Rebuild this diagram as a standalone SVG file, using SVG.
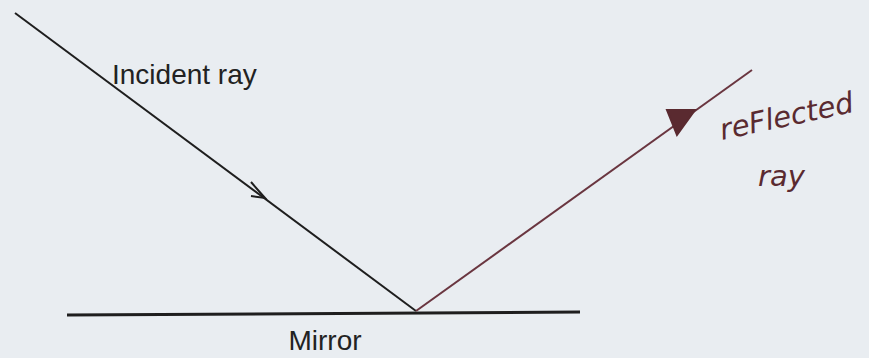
<svg xmlns="http://www.w3.org/2000/svg" width="869" height="358" viewBox="0 0 869 358">
<style>
.lbl{font-family:"Liberation Sans",Arial,sans-serif;font-size:28px;fill:#222}
.hand{font-family:"DejaVu Sans",sans-serif;font-style:italic;font-size:29px;fill:#5a2a30}
.ray{stroke:#1e1e1e;stroke-width:2;fill:none}
.rref{stroke:#6a3640;stroke-width:2;fill:none}
</style>
<rect width="869" height="358" fill="#e9edf1"/>
<g id="mirror">
<line x1="67" y1="315" x2="580" y2="312" stroke="#1e1e1e" stroke-width="3"/>
<text class="lbl" x="325" y="350" text-anchor="middle">Mirror</text>
</g>
<g id="connectors">
<g id="incident">
<line class="ray" x1="15" y1="13" x2="416" y2="311"/>
<polyline class="ray" points="251,182 265,198 251,196"/>
</g>
<g id="reflected">
<line class="rref" x1="416" y1="311" x2="752" y2="70"/>
<polygon points="667,110 695,110 677,135" fill="#5a2a30" stroke="#5a2a30" stroke-width="2"/>
</g>
</g>
<g id="incident-label"><text class="lbl" x="112" y="84">Incident ray</text></g>
<g id="reflected-label">
<text class="hand" x="722" y="140" transform="rotate(-12 722 140)">reFlected</text>
<text class="hand" x="758" y="186">ray</text>
</g>
</svg>
